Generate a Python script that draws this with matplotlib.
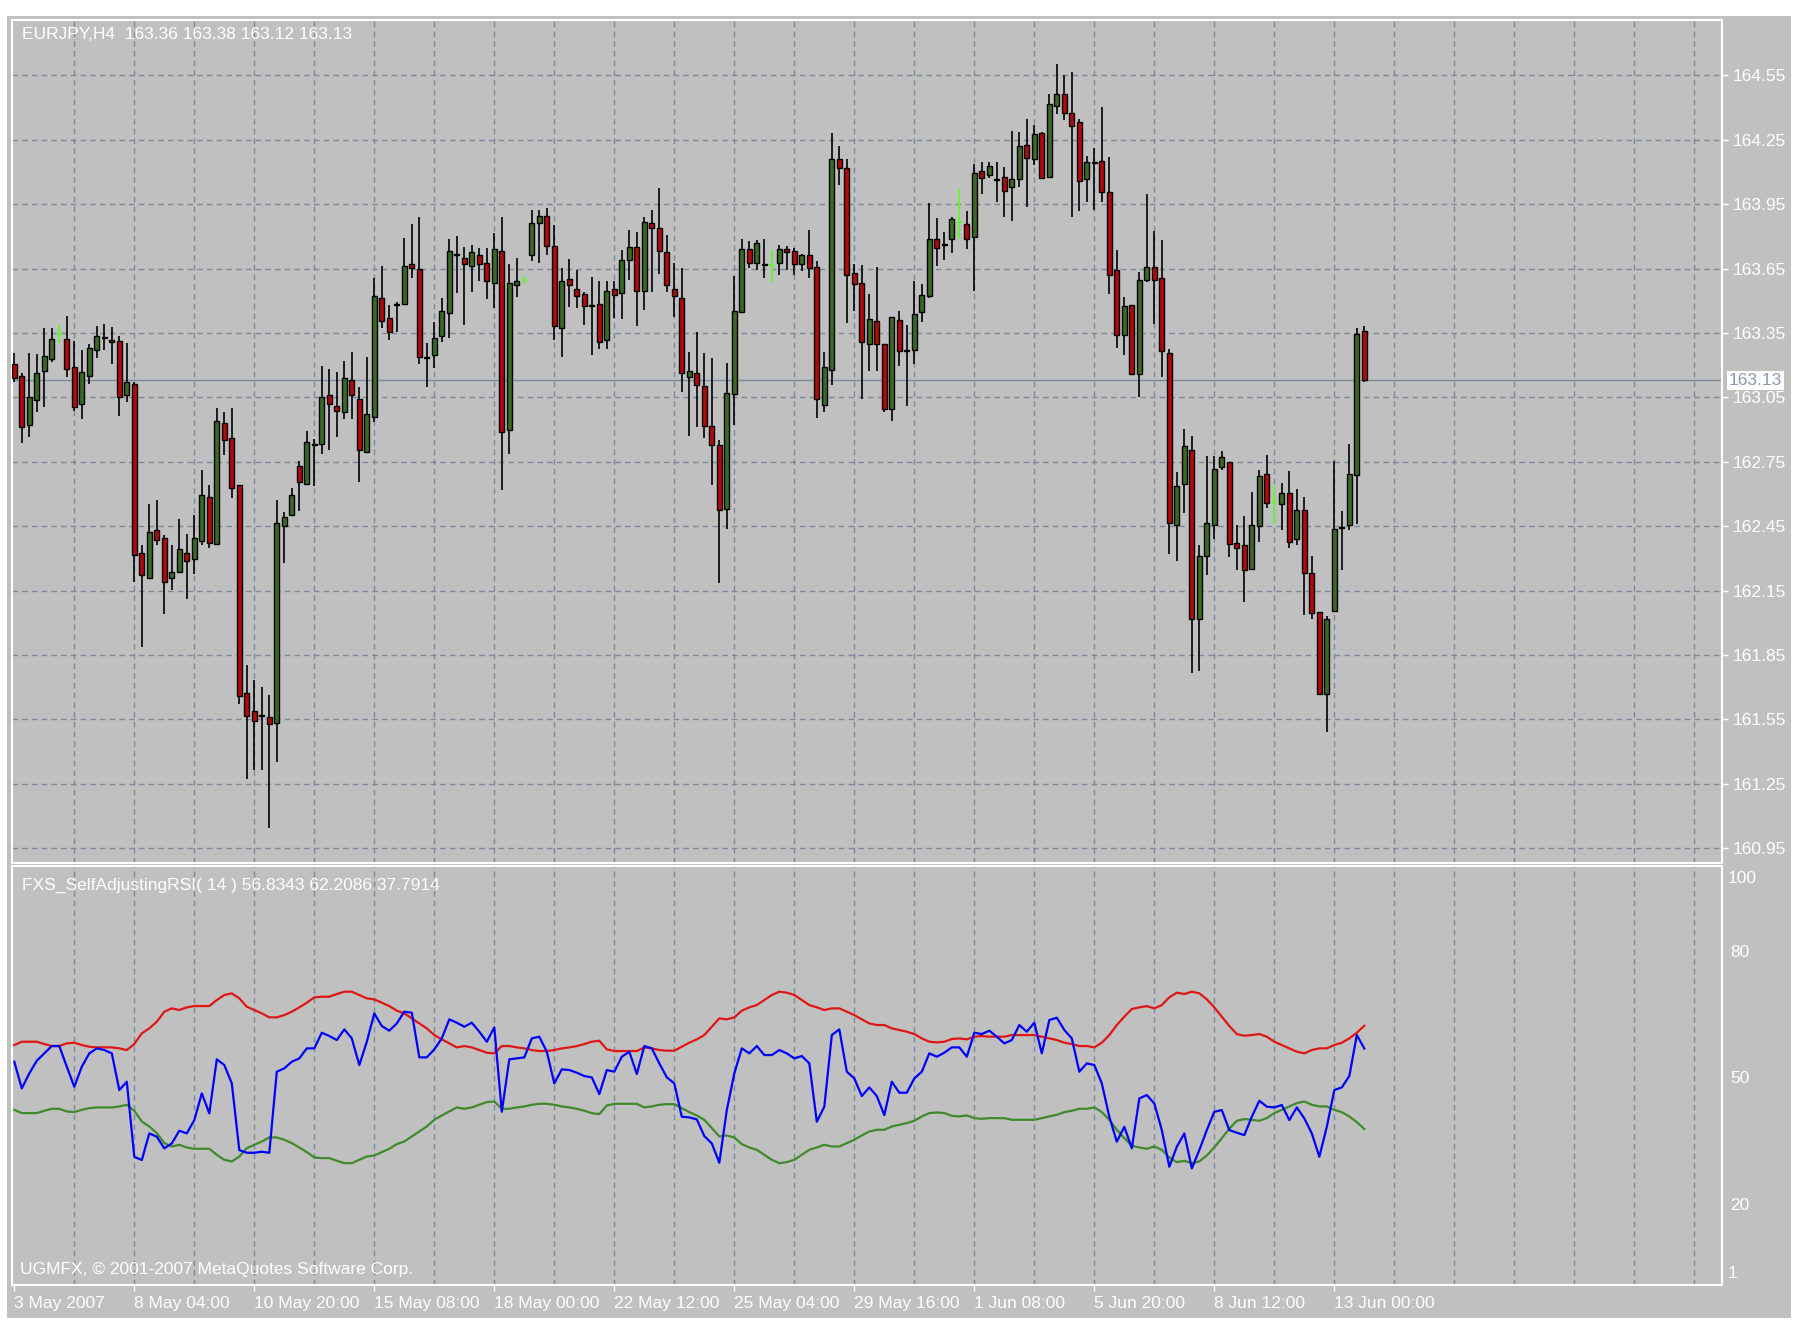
import numpy as np
import matplotlib.pyplot as plt
from matplotlib.patches import Rectangle

plt.rcParams['font.family'] = ['Liberation Sans', 'DejaVu Sans']

# EURJPY H4 bars, oldest first
opens = [
    163.205, 163.15, 162.922, 163.038, 163.172, 163.23, 163.347, 163.322, 163.192, 163.017,
    163.15, 163.272, 163.33, 163.315, 163.313, 163.06, 163.113, 162.325, 162.21, 162.43,
    162.397, 162.21, 162.238, 162.325, 162.297, 162.383, 162.588, 162.367, 162.93, 162.86,
    162.642, 161.672, 161.588, 161.57, 161.563, 161.535, 162.452, 162.50, 162.73, 162.647,
    162.832, 162.833, 163.06, 163.01, 162.983, 163.13, 163.042, 162.797, 162.959, 163.515,
    163.418, 163.485, 163.485, 163.672, 163.647, 163.236, 163.247, 163.337, 163.442, 163.718,
    163.698, 163.66, 163.714, 163.678, 163.582, 163.732, 162.898, 163.574, 163.597, 163.711,
    163.861, 163.897, 163.756, 163.372, 163.60, 163.554, 163.53, 163.478, 163.484, 163.317,
    163.554, 163.538, 163.69, 163.75, 163.546, 163.861, 163.838, 163.725, 163.555, 163.515,
    163.146, 163.165, 163.104, 162.918, 162.83, 162.532, 163.064, 163.446, 163.742, 163.675,
    163.672, 163.667, 163.675, 163.742, 163.732, 163.67, 163.714, 163.655, 163.014, 163.177,
    164.16, 164.12, 163.628, 163.581, 163.298, 163.407, 163.298, 162.998, 163.412, 163.272,
    163.272, 163.446, 163.524, 163.788, 163.762, 163.788, 163.866, 163.858, 163.796, 164.102,
    164.087, 164.067, 164.076, 164.032, 164.068, 164.227, 164.161, 164.281, 164.076, 164.406,
    164.464, 164.374, 164.332, 164.068, 164.145, 164.149, 164.006, 163.643, 163.342, 163.482,
    163.158, 163.597, 163.659, 163.606, 163.257, 162.455, 162.645, 162.803, 162.018, 162.309,
    162.455, 162.725, 162.75, 162.372, 162.36, 162.25, 162.45, 162.692, 162.563, 162.551,
    162.604, 162.388, 162.526, 162.231, 162.048, 161.668, 162.053, 162.446, 162.455, 162.69,
    163.36]
highs = [
    163.255, 163.163, 163.255, 163.25, 163.375, 163.375, 163.388, 163.43, 163.313, 163.272,
    163.30, 163.38, 163.393, 163.377, 163.338, 163.305, 163.122, 162.363, 162.555, 162.57,
    162.41, 162.363, 162.483, 162.413, 162.50, 162.713, 162.643, 163.002, 162.98, 163.002,
    162.642, 161.805, 161.733, 161.70, 161.663, 162.572, 162.517, 162.627, 162.755, 162.893,
    162.855, 163.197, 163.183, 163.167, 163.217, 163.263, 163.097, 163.238, 163.605, 163.664,
    163.48, 163.493, 163.794, 163.857, 163.892, 163.305, 163.40, 163.515, 163.787, 163.802,
    163.752, 163.76, 163.745, 163.745, 163.815, 163.888, 163.67, 163.698, 163.613, 163.924,
    163.924, 163.931, 163.854, 163.652, 163.695, 163.644, 163.543, 163.61, 163.592, 163.59,
    163.59, 163.737, 163.83, 163.822, 163.892, 163.924, 164.025, 163.804, 163.675, 163.652,
    163.263, 163.356, 163.255, 163.235, 162.85, 163.208, 163.613, 163.787, 163.776, 163.784,
    163.787, 163.737, 163.76, 163.753, 163.745, 163.717, 163.83, 163.683, 163.263, 164.28,
    164.22, 164.16, 163.67, 163.667, 163.531, 163.656, 163.298, 163.422, 163.454, 163.387,
    163.59, 163.578, 163.956, 163.884, 163.822, 163.889, 164.021, 163.92, 164.138, 164.146,
    164.146, 164.146, 164.125, 164.289, 164.286, 164.348, 164.317, 164.286, 164.464, 164.604,
    164.553, 164.566, 164.348, 164.174, 164.211, 164.402, 164.169, 163.737, 163.516, 163.482,
    163.636, 163.995, 163.827, 163.785, 163.276, 162.704, 162.903, 162.87, 162.363, 162.775,
    162.775, 162.80, 162.75, 162.455, 162.496, 162.609, 162.712, 162.782, 162.637, 162.65,
    162.709, 162.621, 162.588, 162.309, 162.051, 162.031, 162.754, 162.521, 162.832, 163.373,
    163.38]
lows = [
    163.12, 162.838, 162.863, 162.98, 163.005, 163.213, 163.305, 163.147, 162.988, 162.947,
    163.113, 163.233, 163.272, 163.205, 162.963, 163.03, 162.188, 161.888, 162.205, 162.363,
    162.042, 162.155, 162.233, 162.113, 162.225, 162.363, 162.347, 162.363, 162.783, 162.583,
    161.622, 161.272, 161.313, 161.313, 161.043, 161.35, 162.277, 162.497, 162.522, 162.647,
    162.637, 162.788, 162.805, 162.867, 162.947, 162.95, 162.655, 162.793, 162.935, 163.371,
    163.317, 163.353, 163.485, 163.605, 163.204, 163.10, 163.185, 163.31, 163.325, 163.535,
    163.387, 163.543, 163.59, 163.508, 163.465, 162.618, 162.784, 163.519, 163.577, 163.683,
    163.675, 163.711, 163.317, 163.24, 163.473, 163.465, 163.387, 163.247, 163.275, 163.274,
    163.418, 163.415, 163.597, 163.38, 163.457, 163.543, 163.623, 163.543, 163.426, 163.076,
    162.871, 162.913, 162.859, 162.644, 162.183, 162.439, 162.921, 163.442, 163.652, 163.644,
    163.605, 163.586, 163.62, 163.644, 163.62, 163.64, 163.605, 162.955, 162.983, 163.107,
    164.04, 163.395, 163.452, 163.041, 163.174, 163.174, 162.982, 162.94, 163.197, 163.01,
    163.205, 163.402, 163.511, 163.664, 163.69, 163.723, 163.788, 163.741, 163.547, 163.995,
    164.071, 163.959, 163.889, 163.873, 164.029, 163.936, 164.13, 164.068, 164.076, 164.371,
    164.343, 163.889, 163.917, 163.959, 163.923, 163.962, 163.531, 163.282, 163.247, 163.158,
    163.052, 163.586, 163.391, 163.143, 162.322, 162.289, 162.513, 161.766, 161.774, 162.222,
    162.388, 162.712, 162.305, 162.247, 162.098, 162.247, 162.377, 162.533, 162.46, 162.43,
    162.347, 162.36, 162.035, 162.018, 161.663, 161.492, 162.048, 162.244, 162.433, 162.46,
    163.12]
closes = [
    163.138, 162.91, 163.05, 163.163, 163.243, 163.322, 163.347, 163.183, 163.005, 163.167,
    163.28, 163.338, 163.325, 163.31, 163.05, 163.122, 162.317, 162.222, 162.422, 162.385,
    162.192, 162.238, 162.342, 162.288, 162.397, 162.597, 162.372, 162.938, 162.85, 162.63,
    161.66, 161.568, 161.543, 161.565, 161.527, 162.467, 162.492, 162.597, 162.655, 162.842,
    162.828, 163.05, 163.017, 162.988, 163.138, 163.063, 162.805, 162.972, 163.522, 163.406,
    163.356, 163.48, 163.664, 163.651, 163.239, 163.233, 163.328, 163.453, 163.732, 163.715,
    163.67, 163.726, 163.67, 163.59, 163.74, 162.89, 163.582, 163.59, 163.597, 163.861,
    163.897, 163.756, 163.38, 163.59, 163.574, 163.52, 163.477, 163.474, 163.31, 163.547,
    163.527, 163.69, 163.75, 163.546, 163.865, 163.838, 163.732, 163.574, 163.52, 163.162,
    163.172, 163.108, 162.918, 162.83, 162.525, 163.069, 163.453, 163.742, 163.678, 163.768,
    163.668, 163.667, 163.742, 163.726, 163.67, 163.714, 163.652, 163.04, 163.19, 164.16,
    164.12, 163.62, 163.577, 163.306, 163.415, 163.298, 162.998, 163.422, 163.267, 163.268,
    163.438, 163.527, 163.788, 163.744, 163.758, 163.881, 163.866, 163.788, 164.096, 164.073,
    164.129, 164.063, 164.013, 164.068, 164.22, 164.166, 164.278, 164.073, 164.418, 164.464,
    164.374, 164.312, 164.057, 164.146, 164.141, 164.006, 163.622, 163.342, 163.474, 163.158,
    163.598, 163.656, 163.597, 163.264, 162.463, 162.637, 162.823, 162.018, 162.309, 162.466,
    162.717, 162.77, 162.367, 162.35, 162.244, 162.455, 162.682, 162.559, 162.563, 162.604,
    162.377, 162.526, 162.231, 162.045, 161.666, 162.018, 162.438, 162.44, 162.692, 163.346,
    163.13]

# FXS_SelfAdjustingRSI(14): rsi line and its two bands
rsi = [
    53.71, 47.40, 50.95, 53.95, 55.69, 57.42, 57.42, 52.53, 47.80, 52.53,
    55.69, 56.87, 56.47, 55.69, 47.01, 48.98, 31.24, 30.45, 36.76, 35.97,
    33.21, 34.39, 37.39, 36.76, 39.91, 46.22, 41.49, 54.27, 52.92, 48.59,
    32.81, 32.18, 32.18, 32.42, 32.18, 51.35, 52.14, 53.71, 54.50, 56.87,
    56.87, 60.57, 59.79, 58.84, 61.36, 59.23, 52.92, 58.44, 65.15, 62.15,
    61.05, 62.78, 65.54, 65.31, 54.74, 54.74, 56.63, 59.23, 63.73, 62.94,
    61.99, 62.94, 60.81, 58.44, 61.84, 41.88, 54.27, 54.50, 54.74, 59.23,
    59.63, 56.08, 48.59, 51.90, 51.74, 51.11, 50.32, 50.01, 46.06, 51.74,
    51.35, 54.90, 56.08, 50.80, 57.42, 56.87, 53.32, 50.01, 48.59, 40.70,
    40.54, 40.07, 36.13, 34.39, 29.82, 42.28, 50.95, 56.87, 55.69, 57.42,
    55.29, 55.29, 56.47, 55.69, 54.50, 55.05, 53.32, 39.52, 43.07, 60.02,
    61.36, 51.35, 49.77, 45.59, 47.64, 45.59, 41.09, 48.98, 46.38, 46.38,
    49.77, 51.35, 55.69, 54.90, 55.84, 57.10, 57.10, 54.90, 60.57, 60.26,
    61.05, 59.63, 58.05, 58.84, 62.39, 60.81, 62.94, 55.69, 63.57, 64.12,
    61.21, 59.23, 51.35, 53.32, 52.92, 48.59, 40.70, 34.79, 38.33, 33.21,
    45.04, 45.83, 43.85, 37.55, 28.87, 33.60, 36.76, 28.48, 32.81, 37.55,
    41.88, 42.28, 37.55, 36.92, 36.36, 40.70, 44.49, 43.07, 42.91, 43.46,
    39.91, 42.91, 40.31, 36.76, 31.24, 38.33, 47.01, 47.64, 50.32, 60.02,
    56.8343]
upper_band = [
    57.66, 58.44, 58.44, 58.44, 57.89, 57.42, 57.42, 58.05, 58.21, 57.66,
    57.26, 57.10, 57.10, 57.10, 56.87, 56.47, 57.89, 60.42, 61.60, 63.18,
    65.54, 66.33, 65.94, 66.57, 66.88, 66.88, 66.88, 68.30, 69.49, 69.88,
    68.70, 66.73, 65.94, 65.15, 64.20, 64.20, 64.75, 65.54, 66.57, 67.67,
    68.93, 69.09, 69.09, 69.72, 70.27, 70.27, 69.49, 68.70, 68.46, 67.67,
    66.88, 65.78, 65.15, 63.96, 62.78, 61.60, 60.02, 59.00, 58.05, 57.10,
    57.42, 57.10, 56.47, 55.84, 55.69, 57.42, 57.42, 57.10, 56.87, 56.47,
    56.24, 56.24, 56.47, 56.87, 57.10, 57.42, 57.89, 58.44, 58.68, 56.63,
    56.24, 56.24, 56.24, 56.24, 57.10, 56.87, 56.47, 56.32, 56.32, 57.26,
    58.21, 59.00, 60.02, 61.99, 63.96, 63.73, 64.20, 65.78, 66.57, 67.12,
    68.30, 69.49, 70.27, 70.04, 69.49, 68.30, 67.12, 66.57, 65.94, 66.33,
    66.33, 65.54, 64.75, 63.73, 62.78, 62.39, 62.39, 61.60, 61.21, 60.81,
    60.26, 59.23, 58.44, 58.29, 58.44, 59.08, 59.23, 59.00, 59.63, 59.79,
    59.63, 59.63, 59.63, 60.02, 60.02, 60.02, 60.02, 59.63, 59.23, 58.84,
    58.21, 57.89, 57.42, 57.42, 57.10, 58.21, 60.02, 62.39, 64.36, 66.17,
    66.57, 66.88, 66.33, 67.12, 68.93, 70.04, 69.72, 70.27, 69.88, 68.46,
    66.57, 64.36, 62.15, 60.26, 59.86, 60.02, 60.26, 59.63, 58.44, 57.66,
    56.87, 56.08, 55.69, 56.47, 56.87, 56.87, 57.66, 58.21, 59.23, 60.57,
    62.2086]
lower_band = [
    42.34, 41.56, 41.56, 41.56, 42.11, 42.58, 42.58, 41.95, 41.79, 42.34,
    42.74, 42.90, 42.90, 42.90, 43.13, 43.53, 42.11, 39.58, 38.40, 36.82,
    34.46, 33.67, 34.06, 33.43, 33.12, 33.12, 33.12, 31.70, 30.51, 30.12,
    31.30, 33.27, 34.06, 34.85, 35.80, 35.80, 35.25, 34.46, 33.43, 32.33,
    31.07, 30.91, 30.91, 30.28, 29.73, 29.73, 30.51, 31.30, 31.54, 32.33,
    33.12, 34.22, 34.85, 36.04, 37.22, 38.40, 39.98, 41.00, 41.95, 42.90,
    42.58, 42.90, 43.53, 44.16, 44.31, 42.58, 42.58, 42.90, 43.13, 43.53,
    43.76, 43.76, 43.53, 43.13, 42.90, 42.58, 42.11, 41.56, 41.32, 43.37,
    43.76, 43.76, 43.76, 43.76, 42.90, 43.13, 43.53, 43.68, 43.68, 42.74,
    41.79, 41.00, 39.98, 38.01, 36.04, 36.27, 35.80, 34.22, 33.43, 32.88,
    31.70, 30.51, 29.73, 29.96, 30.51, 31.70, 32.88, 33.43, 34.06, 33.67,
    33.67, 34.46, 35.25, 36.27, 37.22, 37.61, 37.61, 38.40, 38.79, 39.19,
    39.74, 40.77, 41.56, 41.71, 41.56, 40.92, 40.77, 41.00, 40.37, 40.21,
    40.37, 40.37, 40.37, 39.98, 39.98, 39.98, 39.98, 40.37, 40.77, 41.16,
    41.79, 42.11, 42.58, 42.58, 42.90, 41.79, 39.98, 37.61, 35.64, 33.83,
    33.43, 33.12, 33.67, 32.88, 31.07, 29.96, 30.28, 29.73, 30.12, 31.54,
    33.43, 35.64, 37.85, 39.74, 40.14, 39.98, 39.74, 40.37, 41.56, 42.34,
    43.13, 43.92, 44.31, 43.53, 43.13, 43.13, 42.34, 41.79, 40.77, 39.43,
    37.7914]

price_levels = [160.95, 161.25, 161.55, 161.85, 162.15, 162.45, 162.75,
                163.05, 163.35, 163.65, 163.95, 164.25, 164.55]
rsi_levels = [20, 50, 80]
rsi_range = (1, 100)
date_labels = ["3 May 2007", "8 May 04:00", "10 May 20:00", "15 May 08:00",
               "18 May 00:00", "22 May 12:00", "25 May 04:00", "29 May 16:00",
               "1 Jun 08:00", "5 Jun 20:00", "8 Jun 12:00", "13 Jun 00:00"]

o, h, l, c = (np.array(v) for v in (opens, highs, lows, closes))
x = np.arange(len(o))
date_pos = np.arange(len(date_labels)) * 16

bg = '#c0c0c0'
grid_col = '#7d899b'
bull = '#3b6a25'
bear = '#b10a0a'
doji_col = '#6cf03a'
dash = (0, (4, 3))
fs = 12.5
xlim = (-0.36, 227.65)

fig = plt.figure(figsize=(18.18, 13.29), dpi=100)
fig.patch.set_facecolor('white')
fig.patches.append(Rectangle((0.0039, 0.0083), 0.9813, 0.9797, transform=fig.transFigure,
                             facecolor=bg, edgecolor='none', zorder=-10))

ax = fig.add_axes([0.00638, 0.35094, 0.94065, 0.63424])
ax2 = fig.add_axes([0.00638, 0.03341, 0.94065, 0.31497])

for a in (ax, ax2):
    a.set_facecolor(bg)
    a.set_xlim(*xlim)
    for s in a.spines.values():
        s.set_color('white')
        s.set_linewidth(1.5)
    for xv in range(8, 228, 8):
        a.axvline(xv, color=grid_col, lw=1, ls=dash, zorder=0)

# --- price panel ---
for yv in price_levels:
    ax.axhline(yv, color=grid_col, lw=1, ls=dash, zorder=0)
ax.axhline(c[-1], color=grid_col, lw=1, zorder=1)

doji = o == c
up = c > o
dn = c < o
ax.vlines(x[~doji], l[~doji], h[~doji], color='black', lw=1.2, zorder=2)
ax.bar(x[up], (c - o)[up], bottom=o[up], width=0.66, color=bull, edgecolor='black', lw=1, zorder=3)
ax.bar(x[dn], (o - c)[dn], bottom=c[dn], width=0.66, color=bear, edgecolor='black', lw=1, zorder=3)
ax.vlines(x[doji], l[doji], h[doji], color=doji_col, lw=1.5, zorder=3)
ax.hlines(o[doji], x[doji] - 0.33, x[doji] + 0.33, color=doji_col, lw=1.5, zorder=3)

ax.set_ylim(160.883, 164.809)
ax.yaxis.tick_right()
ax.set_yticks(price_levels)
ax.set_yticklabels([f'{v:.2f}' for v in price_levels])
ax.tick_params(axis='y', colors='white', length=4, width=1, pad=4, labelsize=fs)
ax.set_xticks([])

ax.annotate(f'{c[-1]:.2f}', xy=(1.0, c[-1]), xycoords=('axes fraction', 'data'),
            xytext=(5, 0), textcoords='offset points', va='center', ha='left',
            color='#8a98ad', fontsize=fs,
            bbox=dict(boxstyle='square,pad=0.12', fc='white', ec='none'))

ax.text(0.0061, 0.982, f'EURJPY,H4  {opens[-1]:.2f} {highs[-1]:.2f} {lows[-1]:.2f} {closes[-1]:.2f}',
        transform=ax.transAxes, color='white', fontsize=fs, va='center', ha='left')

# --- indicator panel ---
ax2.plot(x, upper_band, color='#e01515', lw=1.6)
ax2.plot(x, lower_band, color='#3f8a2a', lw=1.6)
ax2.plot(x, rsi, color='#0000ff', lw=1.6)
ax2.set_ylim(*rsi_range)
ax2.yaxis.tick_right()
ax2.set_yticks(rsi_levels)
ax2.set_yticklabels([str(v) for v in rsi_levels])
ax2.tick_params(axis='y', colors='white', length=0, pad=6, labelsize=fs)
# the scale limits are written just inside the panel edges
for val, dy in ((rsi_range[1], -9), (rsi_range[0], 8)):
    ax2.annotate(str(val), xy=(1.0, val), xycoords=('axes fraction', 'data'),
                 xytext=(4.5, dy), textcoords='offset points', va='center', ha='left',
                 color='white', fontsize=fs, annotation_clip=False)

ax2.set_xticks(date_pos)
ax2.set_xticklabels(date_labels)
ax2.tick_params(axis='x', colors='white', length=4, width=1, pad=4, labelsize=fs)
for t in ax2.get_xticklabels():
    t.set_ha('left')

ax2.text(0.0061, 0.9546, f'FXS_SelfAdjustingRSI( 14 ) {rsi[-1]:.4f} {upper_band[-1]:.4f} {lower_band[-1]:.4f}',
         transform=ax2.transAxes, color='white', fontsize=fs, va='center', ha='left')
ax2.text(0.0049, 0.0349, 'UGMFX, \u00a9 2001-2007 MetaQuotes Software Corp.',
         transform=ax2.transAxes, color='white', fontsize=fs, va='center', ha='left')

fig.savefig('out.png', dpi=100, facecolor='white')
